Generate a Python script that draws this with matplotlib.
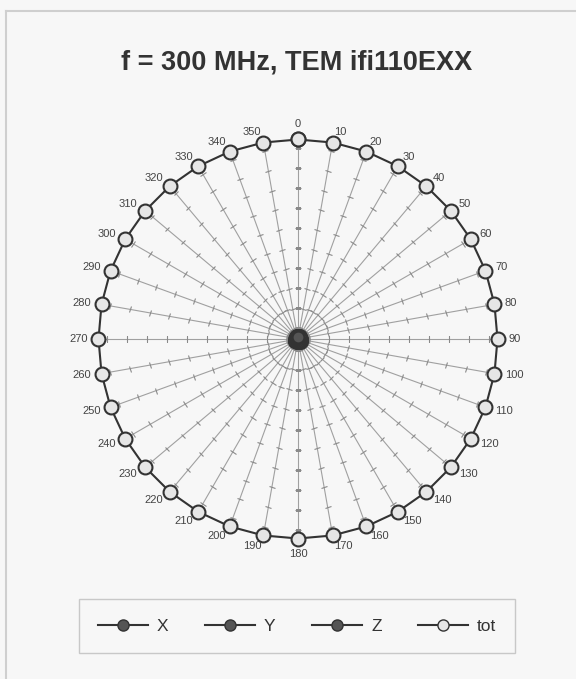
import numpy as np
import matplotlib
matplotlib.use('Agg')
from matplotlib import pyplot as plt
from matplotlib.lines import Line2D
from matplotlib.markers import MarkerStyle
from matplotlib.transforms import Affine2D

# field strength per direction (V/m)
angles = list(range(0, 360, 10))
x_vals = [0.20, 0.21, 0.22, 0.22, 0.21, 0.20, 0.19, 0.18, 0.18, 0.19, 0.20, 0.21,
          0.22, 0.23, 0.23, 0.22, 0.21, 0.20, 0.19, 0.19, 0.20, 0.21, 0.22, 0.23,
          0.23, 0.22, 0.21, 0.20, 0.19, 0.18, 0.18, 0.19, 0.20, 0.21, 0.21, 0.20]
y_vals = [0.15, 0.16, 0.17, 0.17, 0.16, 0.15, 0.15, 0.16, 0.17, 0.18, 0.18, 0.17,
          0.16, 0.15, 0.15, 0.16, 0.17, 0.18, 0.18, 0.17, 0.16, 0.15, 0.15, 0.16,
          0.17, 0.18, 0.18, 0.17, 0.16, 0.15, 0.15, 0.16, 0.17, 0.17, 0.16, 0.15]
z_vals = [0.12, 0.12, 0.13, 0.13, 0.12, 0.12, 0.11, 0.11, 0.12, 0.12, 0.13, 0.13,
          0.12, 0.12, 0.11, 0.11, 0.12, 0.12, 0.13, 0.13, 0.12, 0.12, 0.11, 0.11,
          0.12, 0.12, 0.13, 0.13, 0.12, 0.12, 0.11, 0.11, 0.12, 0.12, 0.13, 0.12]
tot_vals = [10.0] * 36
series_names = ['X', 'Y', 'Z', 'tot']
r_max = 10.0
r_ticks = [0.55, 1.55, 2.55, 3.55, 4.55, 5.55, 6.55, 7.55, 8.55, 9.55]

bg = '#f7f7f7'
plt.rcParams['font.family'] = ['Liberation Sans', 'DejaVu Sans']

W, H = 576, 679
fig = plt.figure(figsize=(W / 100, H / 100), dpi=100, facecolor=bg)

# outer frame (left and top edges visible)
fig.add_artist(Line2D([5.5 / W, 5.5 / W], [0, 1 - 10.5 / H], color='#cfcfcf', lw=1.5,
                      transform=fig.transFigure))
fig.add_artist(Line2D([5.5 / W, 1], [1 - 10.5 / H, 1 - 10.5 / H], color='#cfcfcf', lw=1.5,
                      transform=fig.transFigure))

fig.text(297 / W, 1 - 62 / H, 'f = 300 MHz, TEM ifi110EXX', ha='center', va='center',
         fontsize=19.5, fontweight='bold', color='#333333')

cx, cy, R = 298, 339, 199.5
ax = fig.add_axes([(cx - R) / W, (H - cy - R) / H, 2 * R / W, 2 * R / H], projection='polar')
ax.set_facecolor('none')
ax.set_theta_zero_location('N')
ax.set_theta_direction(-1)
ax.set_ylim(0, r_max)
ax.spines['polar'].set_visible(False)
ax.set_yticks([])
ax.set_thetagrids(angles, [''] * len(angles))
ax.xaxis.grid(True, color='#a0a0a0', lw=0.8)
ax.yaxis.grid(False)

# angle labels, pushed sideways like the original
lab_r = r_max * 210 / R
for a in angles:
    if a == 0:
        ha, va = 'center', 'bottom'
    elif a == 180:
        ha, va = 'center', 'top'
    elif a < 180:
        ha, va = 'left', 'center'
    else:
        ha, va = 'right', 'center'
    ax.text(np.deg2rad(a), lab_r, str(a), ha=ha, va=va, fontsize=8, color='#444444',
            clip_on=False)

# small cross ticks along each spoke
for a in angles:
    m = MarkerStyle('_', transform=Affine2D().rotate_deg(-a))
    ax.plot(np.full(len(r_ticks), np.deg2rad(a)), r_ticks, ls='none', marker=m,
            markersize=4.5, markeredgecolor='#8a8a8a', markeredgewidth=0.8)

th = np.deg2rad(angles + [angles[0]])
for vals in (x_vals, y_vals, z_vals):
    ax.plot(th, vals + [vals[0]], color='#333333', lw=1.2, marker='o', markersize=8,
            markerfacecolor='#555555', markeredgecolor='#333333', markeredgewidth=1)
ax.plot(th, tot_vals + [tot_vals[0]], color='#333333', lw=1.5, marker='o', markersize=10,
        markerfacecolor='#e6e6e6', markeredgecolor='#333333', markeredgewidth=1.5,
        clip_on=False, zorder=5)

handles = []
for name in series_names:
    face = '#e6e6e6' if name == 'tot' else '#555555'
    handles.append(Line2D([], [], color='#333333', lw=1.5, marker='o', markersize=8,
                          markerfacecolor=face, markeredgecolor='#333333'))
leg = fig.legend(handles, series_names, loc='center', bbox_to_anchor=(297 / W, 1 - 626 / H),
                 ncol=4, fontsize=12.5, frameon=True, fancybox=False, handlelength=2.9,
                 handletextpad=0.5, columnspacing=2.1, borderpad=1.1, labelcolor='#333333')
leg.get_frame().set_edgecolor('#bdbdbd')
leg.get_frame().set_facecolor(bg)
leg.get_frame().set_linewidth(1.0)

fig.savefig('out.png', dpi=100, facecolor=bg)
